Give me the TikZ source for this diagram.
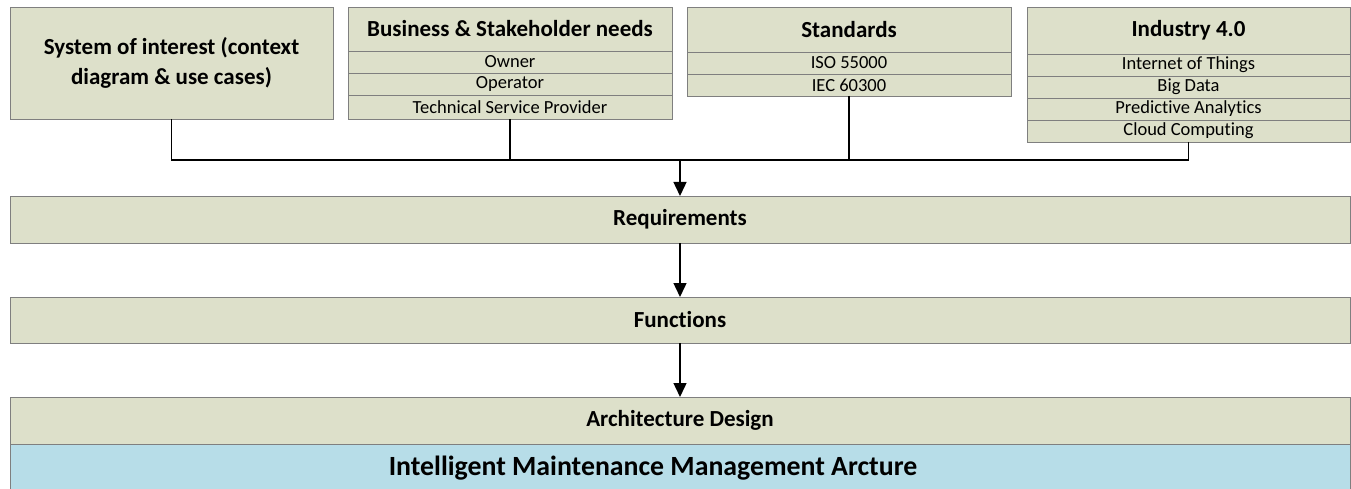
\documentclass[tikz,border=0pt]{standalone}
\usepackage{fontspec}
\setmainfont[RawFeature=-liga]{Carlito}
\usetikzlibrary{arrows.meta}
\definecolor{boxgreen}{HTML}{DDE0CA}
\definecolor{boxblue}{HTML}{B7DDE8}
\definecolor{boxedge}{HTML}{7F7F7F}
\tikzset{
  cell/.style={draw=boxedge, line width=0.9pt, fill=boxgreen, rectangle,
    inner sep=0pt, outer sep=0pt, anchor=north west, align=center},
  headcell/.style={cell, font=\fontsize{23}{30}\selectfont\bfseries},
  rowcell/.style={cell, font=\fontsize{18.5}{20}\selectfont},
  barcell/.style={cell, minimum width=1340pt, font=\fontsize{23}{26}\selectfont\bfseries},
  link/.style={line width=1.4pt, black},
  flow/.style={link, -{Triangle[width=13pt,length=14pt]}}
}
\begin{document}
\begin{tikzpicture}[x=1pt,y=-1pt]
\useasboundingbox (0,0) rectangle (1351,489);

% system of interest
\node[headcell, minimum width=323pt, minimum height=112pt] (sys) at (10,7)
  {System of interest (context\\diagram \& use cases)};

% business & stakeholder needs
\node[headcell, minimum width=324pt, minimum height=44pt] (bus) at (348,7) {Business \& Stakeholder needs};
\node[rowcell, minimum width=324pt, minimum height=22pt] (busA) at (348,51) {Owner};
\node[rowcell, minimum width=324pt, minimum height=22pt] (busB) at (348,73) {Operator};
\node[rowcell, minimum width=324pt, minimum height=24pt] (busC) at (348,95) {Technical Service Provider};

% standards
\node[headcell, minimum width=324pt, minimum height=45pt] (std) at (687,7) {Standards};
\node[rowcell, minimum width=324pt, minimum height=22pt] (stdA) at (687,52) {ISO 55000};
\node[rowcell, minimum width=324pt, minimum height=22pt] (stdB) at (687,74) {IEC 60300};

% industry 4.0
\node[headcell, minimum width=323pt, minimum height=47pt] (ind) at (1027,7) {Industry 4.0};
\node[rowcell, minimum width=323pt, minimum height=22pt] (indA) at (1027,54) {Internet of Things};
\node[rowcell, minimum width=323pt, minimum height=22pt] (indB) at (1027,76) {Big Data};
\node[rowcell, minimum width=323pt, minimum height=22pt] (indC) at (1027,98) {Predictive Analytics};
\node[rowcell, minimum width=323pt, minimum height=22pt] (indD) at (1027,120) {Cloud Computing};

% process bars
\node[barcell, minimum height=47pt] (req) at (10,196) {Requirements};
\node[barcell, minimum height=46pt] (fun) at (10,297) {Functions};
\node[barcell, minimum height=47pt] (arch) at (10,397) {Architecture Design};
\node[barcell, fill=boxblue, minimum height=46pt] (imm) at (10,444) {};
\node[font=\fontsize{27.8}{30}\selectfont\bfseries, inner sep=0pt] (immtext) at ([xshift=-27pt,yshift=-1pt]imm.center)
  {Intelligent Maintenance Management Arcture};

% collecting connectors
\coordinate (hub) at (req.north |- 0,160);
\draw[link] (sys.south) |- (hub);
\draw[link] (busC.south) |- (hub);
\draw[link] (stdB.south) |- (hub);
\draw[link] (indD.south) |- (hub);
\draw[flow] (hub) -- (req.north);
\draw[flow] (req.south) -- (fun.north);
\draw[flow] (fun.south) -- (arch.north);
\end{tikzpicture}
\end{document}
